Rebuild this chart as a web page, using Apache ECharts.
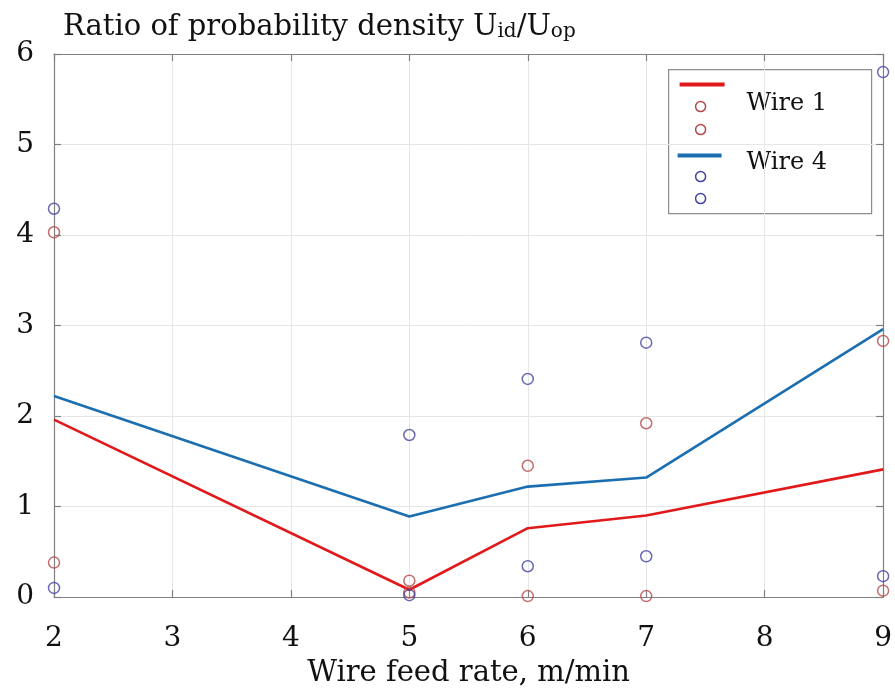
<!DOCTYPE html>
<html>
<head>
<meta charset="utf-8">
<script src="https://cdn.jsdelivr.net/npm/echarts@6/dist/echarts.min.js"></script>
<style>html,body{margin:0;padding:0;background:#fff;}#c{width:895px;height:693px;}</style>
</head>
<body>
<div id="c"></div>
<script>
// ---- data ----
var feedRates = [2, 5, 6, 7, 9];
var wire1Mean = [1.96, 0.08, 0.76, 0.90, 1.41];
var wire4Mean = [2.22, 0.89, 1.22, 1.32, 2.96];
var wire1Upper = [4.03, 0.18, 1.45, 1.92, 2.83];
var wire1Lower = [0.38, 0.05, 0.01, 0.01, 0.07];
var wire4Upper = [4.29, 1.79, 2.41, 2.81, 5.80];
var wire4Lower = [0.10, 0.02, 0.34, 0.45, 0.23];
var xTicks = [2, 3, 4, 5, 6, 7, 8, 9];
var yTicks = [0, 1, 2, 3, 4, 5, 6];

function pairs(ys) { return feedRates.map(function (x, i) { return [x, ys[i]]; }); }

var FONT = 'DejaVu Serif';
var AXIS_C = '#808080';
var GRID_C = '#e6e6e6';
var RED = '#e2191b', BLUE = '#1b6fb0', RED_O = '#b5484a', BLUE_O = '#4343a0';

function xa(pos, main) {
  return {
    type: 'value', position: pos, min: xTicks[0], max: xTicks[xTicks.length - 1], interval: 1,
    axisLine: { show: true, onZero: false, lineStyle: { color: AXIS_C, width: 1.2 } },
    axisTick: { show: true, inside: true, length: 7, lineStyle: { color: AXIS_C, width: 1.2 } },
    axisLabel: main ? { show: true, margin: 28, fontFamily: FONT, fontSize: 28, color: '#111' } : { show: false },
    splitLine: { show: main, lineStyle: { color: GRID_C, width: 1 } },
    name: main ? 'Wire feed rate, m/min' : '', nameLocation: 'middle', nameGap: 62,
    nameTextStyle: { fontFamily: FONT, fontSize: 29, color: '#111' }
  };
}
function ya(pos, main) {
  return {
    type: 'value', position: pos, min: yTicks[0], max: yTicks[yTicks.length - 1], interval: 1,
    axisLine: { show: true, onZero: false, lineStyle: { color: AXIS_C, width: 1.2 } },
    axisTick: { show: true, inside: true, length: 7, lineStyle: { color: AXIS_C, width: 1.2 } },
    axisLabel: main ? { show: true, margin: 20, fontFamily: FONT, fontSize: 28, color: '#111' } : { show: false },
    splitLine: { show: main, lineStyle: { color: GRID_C, width: 1 } }
  };
}
function circles(name, ys, color) {
  return {
    name: name, type: 'scatter', data: pairs(ys), symbol: 'circle', symbolSize: 11, clip: false, z: 5,
    itemStyle: { color: 'rgba(255,255,255,0)', borderColor: color, borderWidth: 1.5 },
    emphasis: { disabled: true }
  };
}
function line(name, ys, color) {
  return {
    name: name, type: 'line', data: pairs(ys), showSymbol: false, symbol: 'none', z: 4,
    lineStyle: { color: color, width: 2.6 }, clip: false
  };
}

var chart = echarts.init(document.getElementById('c'), null, { renderer: 'canvas' });
chart.setOption({
  animation: false,
  backgroundColor: '#fff',
  title: {
    text: 'Ratio of probability density U{s|id}/U{s|op}',
    left: 58, top: 8,
    textStyle: {
      fontFamily: FONT, fontSize: 29, fontWeight: 'normal', color: '#111',
      rich: { s: { fontFamily: FONT, fontSize: 20, color: '#111', verticalAlign: 'bottom', padding: [9, 0, 0, 0] } }
    }
  },
  grid: { left: 54, right: 9, top: 54, bottom: 95, containLabel: false },
  xAxis: [xa('bottom', true), xa('top', false)],
  yAxis: [ya('left', true), ya('right', false)],
  series: [
    line('Wire 1', wire1Mean, RED),
    circles('Wire 1 upper', wire1Upper, RED_O),
    circles('Wire 1 lower', wire1Lower, RED_O),
    line('Wire 4', wire4Mean, BLUE),
    circles('Wire 4 upper', wire4Upper, BLUE_O),
    circles('Wire 4 lower', wire4Lower, BLUE_O)
  ],
  graphic: [{
    type: 'group', left: 668, top: 69, z: 100,
    children: [
      { type: 'rect', shape: { x: 0, y: 0, width: 203, height: 144 }, style: { fill: '#fff', stroke: '#8c8c8c', lineWidth: 1.2 } },
      { type: 'line', shape: { x1: 11, y1: 15, x2: 56, y2: 15 }, style: { stroke: RED, lineWidth: 4 } },
      { type: 'circle', shape: { cx: 32, cy: 37, r: 5 }, style: { fill: 'none', stroke: RED_O, lineWidth: 1.5 } },
      { type: 'circle', shape: { cx: 32, cy: 60, r: 5 }, style: { fill: 'none', stroke: RED_O, lineWidth: 1.5 } },
      { type: 'text', x: 78, y: 34, style: { text: 'Wire 1', fontFamily: FONT, fontSize: 24, fill: '#111', verticalAlign: 'middle' } },
      { type: 'line', shape: { x1: 9, y1: 86, x2: 53, y2: 86 }, style: { stroke: BLUE, lineWidth: 4 } },
      { type: 'circle', shape: { cx: 32, cy: 107, r: 5 }, style: { fill: 'none', stroke: BLUE_O, lineWidth: 1.5 } },
      { type: 'circle', shape: { cx: 32, cy: 129, r: 5 }, style: { fill: 'none', stroke: BLUE_O, lineWidth: 1.5 } },
      { type: 'text', x: 78, y: 93, style: { text: 'Wire 4', fontFamily: FONT, fontSize: 24, fill: '#111', verticalAlign: 'middle' } }
    ]
  }]
});
</script>
</body>
</html>
